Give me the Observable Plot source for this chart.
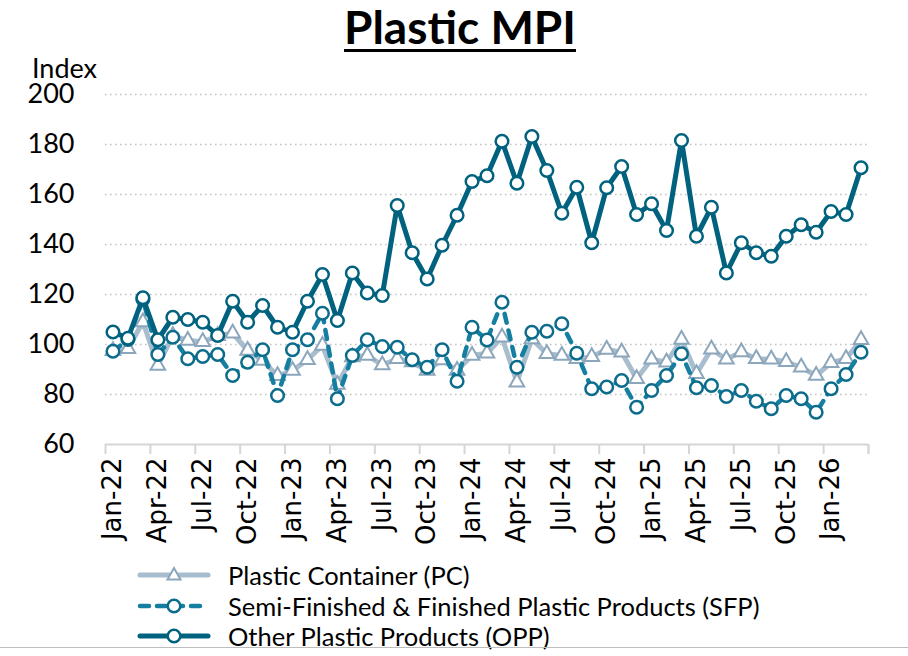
<!DOCTYPE html>
<html>
<head>
<meta charset="utf-8">
<script src="https://cdn.jsdelivr.net/npm/d3@7"></script>
<script src="https://cdn.jsdelivr.net/npm/@observablehq/plot@0.6"></script>
<style>
  html, body { margin: 0; padding: 0; background: #fff; }
  body { width: 908px; height: 656px; position: relative; overflow: hidden; font-family: Lato, "Open Sans", sans-serif; }
  #chart { position: absolute; left: 0; top: 0; }
  .title { position: absolute; left: 0; width: 920px; top: 4px; text-align: center; font-size: 46px; line-height: 46px; font-weight: bold; color: #000; text-decoration: underline; text-decoration-thickness: 3px; text-underline-offset: 5px; }
  .ylab { position: absolute; left: 32px; top: 54px; font-size: 27px; line-height: 27px; color: #000; }
  .legend { position: absolute; left: 137px; top: 560px; }
  .legend .row { height: 30.5px; display: flex; align-items: center; }
  .legend .row span { font-size: 25.5px; color: #000; margin-left: 17px; white-space: nowrap; }
  .bottomline { position: absolute; left: 0; top: 647px; width: 908px; height: 1px; background: #bdbdbd; }
</style>
</head>
<body>
<div id="chart"></div>
<div class="title">Plastic MPI</div>
<div class="ylab">Index</div>
<div class="legend" id="legend"></div>
<div class="bottomline"></div>
<script>
const months = [
  "Jan-22","Feb-22","Mar-22","Apr-22","May-22","Jun-22","Jul-22","Aug-22","Sep-22","Oct-22","Nov-22","Dec-22",
  "Jan-23","Feb-23","Mar-23","Apr-23","May-23","Jun-23","Jul-23","Aug-23","Sep-23","Oct-23","Nov-23","Dec-23",
  "Jan-24","Feb-24","Mar-24","Apr-24","May-24","Jun-24","Jul-24","Aug-24","Sep-24","Oct-24","Nov-24","Dec-24",
  "Jan-25","Feb-25","Mar-25","Apr-25","May-25","Jun-25","Jul-25","Aug-25","Sep-25","Oct-25","Nov-25","Dec-25",
  "Jan-26","Feb-26","Mar-26"
];
// Plastic Container (PC)
const pc = [97.5,98.3,109,91.6,103.5,101.6,101.1,103.5,104.5,97.6,
            93.6,87.5,89.6,93.9,99.6,84,95,95.6,91.8,94.3,
            93,89.6,93.8,89.6,95.6,96.5,102.9,84.9,102.2,96.3,
            95.6,94.3,95.1,98,96.9,86.3,94.1,92.9,102,88.3,
            98.1,94.1,97,94.3,94.1,93.1,90.9,87.6,92.7,94.3,101.9];
// Semi-Finished & Finished Plastic Products (SFP)
const sfp = [97.3,102,118,96,102.9,94.3,95.2,96,87.6,92.9,
             97.9,79.6,97.9,101.9,112.5,78.3,95.6,101.9,99.2,98.9,
             93.9,90.9,97.9,85.3,106.9,101.8,116.9,90.9,104.9,105.3,
             108.3,96.5,82.3,83,85.6,74.9,81.6,87.6,96.3,82.7,
             83.6,79.2,81.6,77.3,74.3,79.6,78.3,72.9,82.3,88,96.9];
// Other Plastic Products (OPP)
const opp = [105,102.5,118.7,101.9,110.9,110,108.9,103.6,117.3,108.9,
             115.6,106.9,104.9,117.3,128,109.6,128.6,120.6,119.6,155.6,
             136.7,126.2,139.7,151.7,165.2,167.5,181.3,164.5,183.2,169.6,
             152.5,162.9,140.7,162.7,171.2,152,156.3,145.6,181.6,143.3,
             154.9,128.6,140.7,136.7,135.3,143.3,147.9,144.9,153.2,152,170.7];
const yTicks = [60, 80, 100, 120, 140, 160, 180, 200];
const seriesNames = ["Plastic Container (PC)", "Semi-Finished & Finished Plastic Products (SFP)", "Other Plastic Products (OPP)"];

const C_PC_LINE = "#A8BDCD", C_PC_MARK = "#8CA6BB";
const C_SFP_LINE = "#157FA1", C_SFP_MARK = "#0B6C8C";
const C_OPP = "#00627E";

const idx = d3.range(months.length);
const labelIdx = idx.filter(i => i % 3 === 0);
const boundaries = d3.range(-0.5, months.length, 3).concat([months.length - 0.5]);

const chart = Plot.plot({
  width: 908,
  height: 560,
  marginLeft: 105,
  marginRight: 40,
  marginTop: 94,
  marginBottom: 116,
  style: { fontFamily: "Lato, 'Open Sans', sans-serif", color: "#000", background: "transparent", overflow: "visible" },
  x: { type: "linear", domain: [-0.5, months.length - 0.5] },
  y: { domain: [60, 200] },
  marks: [
    Plot.gridY(yTicks.filter(v => v > 60), { stroke: "#c4c4c4", strokeOpacity: 1, strokeWidth: 1.6, strokeDasharray: "1.6,3.4" }),
    Plot.ruleY([60], { stroke: "#d6d6d6", strokeWidth: 2 }),
    Plot.ruleX(boundaries, { y1: 60, y2: 56, stroke: "#d6d6d6", strokeWidth: 2 }),
    Plot.axisY({ ticks: yTicks, tickSize: 0, tickPadding: 31, fontSize: 27, label: null }),
    Plot.axisX({ ticks: labelIdx, tickSize: 0, tickPadding: 13, tickRotate: -90, tickFormat: i => months[i], fontSize: 26, fontFamily: "DejaVu Sans", label: null }),
    // PC
    Plot.line(idx, { x: i => i, y: i => pc[i], stroke: C_PC_LINE, strokeWidth: 5, strokeLinejoin: "round" }),
    Plot.dot(idx, { x: i => i, y: i => pc[i], symbol: "triangle", r: 5.4, fill: "#fff", stroke: C_PC_MARK, strokeWidth: 2 }),
    // SFP
    Plot.line(idx, { x: i => i, y: i => sfp[i], stroke: C_SFP_LINE, strokeWidth: 4.5, strokeDasharray: "9,8", strokeLinecap: "round", strokeLinejoin: "round" }),
    Plot.dot(idx, { x: i => i, y: i => sfp[i], r: 6.3, fill: "#fff", stroke: C_SFP_MARK, strokeWidth: 2.5 }),
    // OPP
    Plot.line(idx, { x: i => i, y: i => opp[i], stroke: C_OPP, strokeWidth: 5, strokeLinejoin: "round" }),
    Plot.dot(idx, { x: i => i, y: i => opp[i], r: 6.3, fill: "#fff", stroke: C_OPP, strokeWidth: 2.5 })
  ]
});
document.getElementById("chart").appendChild(chart);

// Legend
const legend = document.getElementById("legend");
const swatches = [
  `<svg width="74" height="20"><line x1="3" y1="10" x2="71" y2="10" stroke="${C_PC_LINE}" stroke-width="5" stroke-linecap="round"/><path d="M37,3 L43.5,14.5 L30.5,14.5 Z" fill="#fff" stroke="${C_PC_MARK}" stroke-width="2"/></svg>`,
  `<svg width="74" height="20"><line x1="3" y1="10" x2="71" y2="10" stroke="${C_SFP_LINE}" stroke-width="4.5" stroke-dasharray="9,8" stroke-linecap="round"/><circle cx="37" cy="10" r="6.3" fill="#fff" stroke="${C_SFP_MARK}" stroke-width="2.5"/></svg>`,
  `<svg width="74" height="20"><line x1="3" y1="10" x2="71" y2="10" stroke="${C_OPP}" stroke-width="5" stroke-linecap="round"/><circle cx="37" cy="10" r="6.3" fill="#fff" stroke="${C_OPP}" stroke-width="2.5"/></svg>`
];
seriesNames.forEach((name, k) => {
  const row = document.createElement("div");
  row.className = "row";
  row.innerHTML = swatches[k] + `<span>${name}</span>`;
  legend.appendChild(row);
});
</script>
</body>
</html>
